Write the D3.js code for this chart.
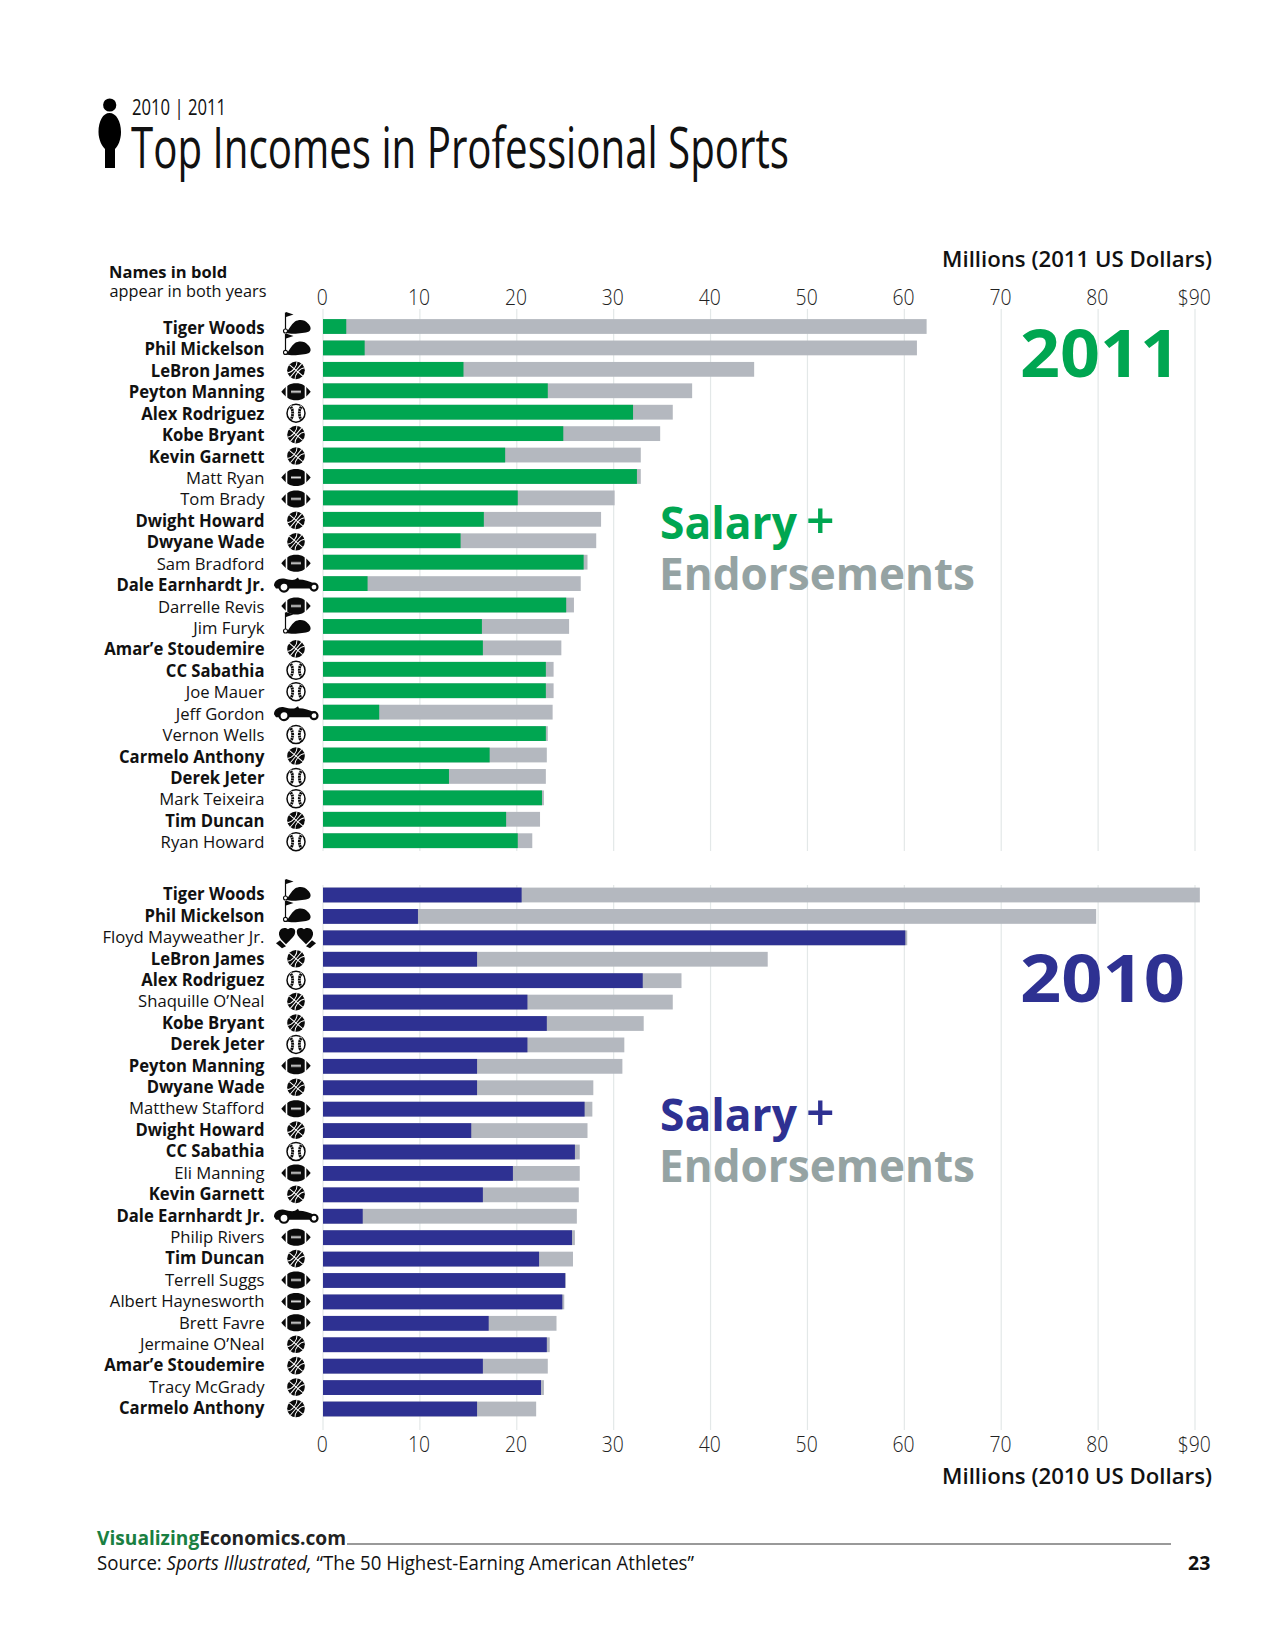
<!DOCTYPE html>
<html>
<head>
<meta charset="utf-8">
<title>Top Incomes in Professional Sports</title>
<script src="https://cdn.jsdelivr.net/npm/d3@7"></script>
<style>
  html, body { margin: 0; padding: 0; background: #fff; }
  svg text { font-family: "Open Sans", sans-serif; fill: #111; }
</style>
</head>
<body>
<svg id="chart" width="1275" height="1650"></svg>
<script>
// 2011 table
const names2011 = ["Tiger Woods", "Phil Mickelson", "LeBron James", "Peyton Manning", "Alex Rodriguez", "Kobe Bryant", "Kevin Garnett", "Matt Ryan", "Tom Brady", "Dwight Howard", "Dwyane Wade", "Sam Bradford", "Dale Earnhardt Jr.", "Darrelle Revis", "Jim Furyk", "Amar’e Stoudemire", "CC Sabathia", "Joe Mauer", "Jeff Gordon", "Vernon Wells", "Carmelo Anthony", "Derek Jeter", "Mark Teixeira", "Tim Duncan", "Ryan Howard"];
const sports2011 = ["golf", "golf", "basketball", "football", "baseball", "basketball", "basketball", "football", "football", "basketball", "basketball", "football", "racing", "football", "golf", "basketball", "baseball", "baseball", "racing", "baseball", "basketball", "baseball", "baseball", "basketball", "baseball"];
const salary2011 = [2.4, 4.3, 14.5, 23.2, 32, 24.8, 18.8, 32.4, 20.1, 16.6, 14.2, 26.9, 4.6, 25.1, 16.4, 16.5, 23, 23, 5.8, 23, 17.2, 13, 22.6, 18.9, 20.1];
const total2011 = [62.3, 61.3, 44.5, 38.1, 36.1, 34.8, 32.8, 32.8, 30.1, 28.7, 28.2, 27.3, 26.6, 25.9, 25.4, 24.6, 23.8, 23.8, 23.7, 23.2, 23.1, 23, 22.8, 22.4, 21.6];

// 2010 table
const names2010 = ["Tiger Woods", "Phil Mickelson", "Floyd Mayweather Jr.", "LeBron James", "Alex Rodriguez", "Shaquille O’Neal", "Kobe Bryant", "Derek Jeter", "Peyton Manning", "Dwyane Wade", "Matthew Stafford", "Dwight Howard", "CC Sabathia", "Eli Manning", "Kevin Garnett", "Dale Earnhardt Jr.", "Philip Rivers", "Tim Duncan", "Terrell Suggs", "Albert Haynesworth", "Brett Favre", "Jermaine O’Neal", "Amar’e Stoudemire", "Tracy McGrady", "Carmelo Anthony"];
const sports2010 = ["golf", "golf", "boxing", "basketball", "baseball", "basketball", "basketball", "baseball", "football", "basketball", "football", "basketball", "baseball", "football", "basketball", "racing", "football", "basketball", "football", "football", "football", "basketball", "basketball", "basketball", "basketball"];
const salary2010 = [20.5, 9.8, 60.1, 15.9, 33, 21.1, 23.1, 21.1, 15.9, 15.9, 27, 15.3, 26, 19.6, 16.5, 4.1, 25.7, 22.3, 25, 24.7, 17.1, 23.1, 16.5, 22.5, 15.9];
const total2010 = [90.5, 79.8, 60.3, 45.9, 37, 36.1, 33.1, 31.1, 30.9, 27.9, 27.8, 27.3, 26.5, 26.5, 26.4, 26.2, 26, 25.8, 25.05, 24.9, 24.1, 23.4, 23.2, 22.8, 22];

const tickValues = [0, 10, 20, 30, 40, 50, 60, 70, 80, 90];

const green = "#00a651";
const navy = "#2e3192";
const barGray = "#b4b8bf";
const wordGray = "#95a3a3";
const gridColor = "#e3e8e8";
const ink = "#0a0a0a";

const svg = d3.select("#chart");
const x = d3.scaleLinear().domain([0, 90]).range([323, 1195]);

// Sets a text's drawn width, squeezing the letters like the condensed face of the original
function fit(sel, width) {
  return sel.attr("textLength", width).attr("lengthAdjust", "spacingAndGlyphs");
}

function addText(str, px, py, size, weight, color) {
  return svg.append("text").attr("x", px).attr("y", py)
    .attr("font-size", size).attr("font-weight", weight)
    .style("fill", color || "#111").text(str);
}

//#region Sport icons
const icons = {
  golf(g) {
    g.append("path").attr("d", "M-10.500 -15V4").attr("stroke", ink).attr("stroke-width", 1.2);
    g.append("path").attr("d", "M-10 -15.500L-2.500 -13L-10 -10.500Z").attr("fill", ink);
    g.append("path").attr("d", "M-10 5C-7 2 -5 -3 -1 -6C3 -8.500 9 -8 12 -4C15 -1 15.500 2 13 4C8 6 -4 7 -10 5.500Z").attr("fill", ink);
    g.append("circle").attr("cx", -10.500).attr("cy", 3.500).attr("r", 2)
      .attr("fill", "#fff").attr("stroke", ink).attr("stroke-width", 1.1);
  },
  basketball(g) {
    g.append("circle").attr("r", 8.8).attr("fill", ink);
    g.append("path")
      .attr("d", "M-8.800 0H8.800M0 -8.800V8.800M-5 -7.500C-1.500 -4 -1.500 4 -5 7.500M5 -7.500C1.500 -4 1.500 4 5 7.500")
      .attr("transform", "rotate(40)")
      .attr("fill", "none").attr("stroke", "#fff").attr("stroke-width", 1);
  },
  football(g) {
    g.append("path").attr("d", "M-14.700 0C-10 -6 -6 -8.500 0 -8.500C6 -8.500 10 -6 14.700 0C10 6 6 8.500 0 8.500C-6 8.500 -10 6 -14.700 0Z").attr("fill", ink);
    g.append("path").attr("d", "M-9.500 -9V9M9.500 -9V9").attr("stroke", "#fff").attr("stroke-width", 1.6);
    g.append("path").attr("d", "M-5 0H5M-4 -1.500V1.500M-2 -1.500V1.500M0 -1.500V1.500M2 -1.500V1.500M4 -1.500V1.500")
      .attr("stroke", "#fff").attr("stroke-width", 0.8);
  },
  baseball(g) {
    const seams = "M-5.500 -7C-2.500 -3 -2.500 3 -5.500 7M5.500 -7C2.500 -3 2.500 3 5.500 7";
    g.append("circle").attr("r", 9).attr("fill", "#fff").attr("stroke", ink).attr("stroke-width", 1.5);
    g.append("path").attr("d", seams).attr("fill", "none").attr("stroke", ink).attr("stroke-width", 2.8);
    g.append("path").attr("d", seams).attr("fill", "none").attr("stroke", "#fff").attr("stroke-width", 2.8)
      .attr("stroke-dasharray", "0.6 2");
  },
  racing(g) {
    g.append("path")
      .attr("d", "M-22 1C-22 -4 -17 -7 -12 -6C-8 -5 -4 -4 -1 -5L2 -7L3 -5C8 -5 14 -3 18 -1L22 1L21 4H-20Z")
      .attr("fill", ink);
    [-12, 18].forEach(cx => {
      g.append("circle").attr("cx", cx).attr("cy", 2.500).attr("r", cx < 0 ? 4.500 : 3.500)
        .attr("fill", "#fff").attr("stroke", ink).attr("stroke-width", 2.2);
    });
  },
  boxing(g) {
    const glove = "M-16 -7C-14 -10 -10 -10 -8 -8C-6 -10 -2 -10 -1 -7C0 -3 -3 0 -6 3L-10 7L-15 2C-17 -1 -18 -4 -16 -7Z";
    const cuff = "M-16 3L-10 9L-14 11L-20 6Z";
    [1, -1].forEach(side => {
      const half = g.append("g").attr("transform", `scale(${side},1)`);
      half.append("path").attr("d", glove).attr("fill", ink);
      half.append("path").attr("d", cuff).attr("fill", ink);
    });
  }
};
//#endregion

const inBoth = new Set(names2011.filter(n => names2010.includes(n)));

function drawPanel(names, sports, salary, total, color, top, bottom, gridTop, gridBottom, axisY, makeAxis, labelShift, iconShift) {
  const rows = names.map((name, i) => ({ name, sport: sports[i], salary: salary[i], total: total[i] }));
  const y = d3.scalePoint().domain(names).range([top, bottom]);
  const barHeight = 14.8;

  const panel = svg.append("g");

  panel.selectAll("line.grid").data(tickValues).join("line")
    .attr("class", "grid")
    .attr("x1", d => x(d)).attr("x2", d => x(d))
    .attr("y1", gridTop).attr("y2", gridBottom)
    .attr("stroke", gridColor).attr("stroke-width", 1.2);

  const axis = panel.append("g").attr("transform", `translate(0,${axisY})`)
    .call(makeAxis(x).tickValues(tickValues).tickSize(0).tickPadding(0)
      .tickFormat(d => d === 90 ? "$90" : d));
  axis.select(".domain").remove();
  axis.selectAll("text")
    .attr("font-size", 22.5).attr("font-weight", 300)
    .attr("font-family", "Open Sans")
    .attr("dy", 0).attr("y", 0).attr("dx", -1.500)
    .attr("transform", "scale(.86,1)")
    .style("fill", "#222");

  panel.selectAll("rect.total").data(rows).join("rect")
    .attr("class", "total")
    .attr("x", x(0)).attr("y", d => y(d.name) - barHeight / 2)
    .attr("width", d => x(d.total) - x(0)).attr("height", barHeight)
    .attr("fill", barGray);

  panel.selectAll("rect.salary").data(rows).join("rect")
    .attr("class", "salary")
    .attr("x", x(0)).attr("y", d => y(d.name) - barHeight / 2)
    .attr("width", d => x(d.salary) - x(0)).attr("height", barHeight)
    .attr("fill", color);

  panel.selectAll("g.name").data(rows).join("g")
    .attr("class", "name")
    .attr("transform", d => `translate(264.500,${y(d.name) + labelShift}) scale(.98,1)`)
    .append("text")
    .attr("text-anchor", "end")
    .attr("font-size", 17)
    .attr("font-weight", d => inBoth.has(d.name) ? 700 : 400)
    .text(d => d.name);

  panel.selectAll("g.icon").data(rows).join("g")
    .attr("class", "icon")
    .attr("transform", d => `translate(296,${y(d.name) + iconShift})`)
    .each(function (d) { icons[d.sport](d3.select(this)); });
}

drawPanel(names2011, sports2011, salary2011, total2011, green, 326.5, 840.7, 309, 851, 305, d3.axisTop, 7.500, 1);
drawPanel(names2010, sports2010, salary2010, total2010, navy, 895, 1409, 885, 1430, 1452, d3.axisBottom, 5.300, -0.500);

// Header
svg.append("circle").attr("cx", 109.7).attr("cy", 105).attr("r", 6.600).attr("fill", "#000");
svg.append("path")
  .attr("d", "M109.500 113C103 113 98.500 121 98.500 132C98.500 140 102 146 105 149V168H115V149C118 146 121 140 121 132C121 121 116 113 109.500 113Z")
  .attr("fill", "#000");
fit(addText("2010 | 2011", 132, 115, 22, 400), 94);
fit(addText("Top Incomes in Professional Sports", 131, 168, 56, 500), 658);

addText("Names in bold", 109, 278, 16.5, 700);
fit(addText("appear in both years", 109.500, 297, 16.5, 400), 157);

fit(addText("Millions (2011 US Dollars)", 942, 267, 22, 600), 270);
fit(addText("Millions (2010 US Dollars)", 942, 1483.500, 22, 600), 270);

fit(addText("2011", 1020, 377, 67, 700, green), 160);
fit(addText("2010", 1020, 1002, 67, 700, navy), 165);

fit(addText("Salary", 660, 539, 45, 700, green), 137);
addText("+", 806, 539, 50, 600, green);
fit(addText("Endorsements", 659, 590, 45, 700, wordGray), 316);
fit(addText("Salary", 660, 1131, 45, 700, navy), 137);
addText("+", 806, 1131, 50, 600, navy);
fit(addText("Endorsements", 659, 1182, 45, 700, wordGray), 316);

// Footer
const site = fit(addText("", 97, 1544.500, 19.500, 700), 249);
site.append("tspan").style("fill", "#1a7f42").text("Visualizing");
site.append("tspan").style("fill", "#222").text("Economics.com");
svg.append("line").attr("x1", 347).attr("x2", 1175).attr("y1", 1544).attr("y2", 1544)
  .attr("stroke", "#777").attr("stroke-width", 1.4)
  .attr("x2", 1171);

const source = fit(addText("", 97, 1570, 19.500, 400), 597);
source.append("tspan").text("Source: ");
source.append("tspan").attr("font-style", "italic").text("Sports Illustrated, ");
source.append("tspan").text("“The 50 Highest-Earning American Athletes”");
addText("23", 1188, 1570, 19.500, 700);
</script>
</body>
</html>
